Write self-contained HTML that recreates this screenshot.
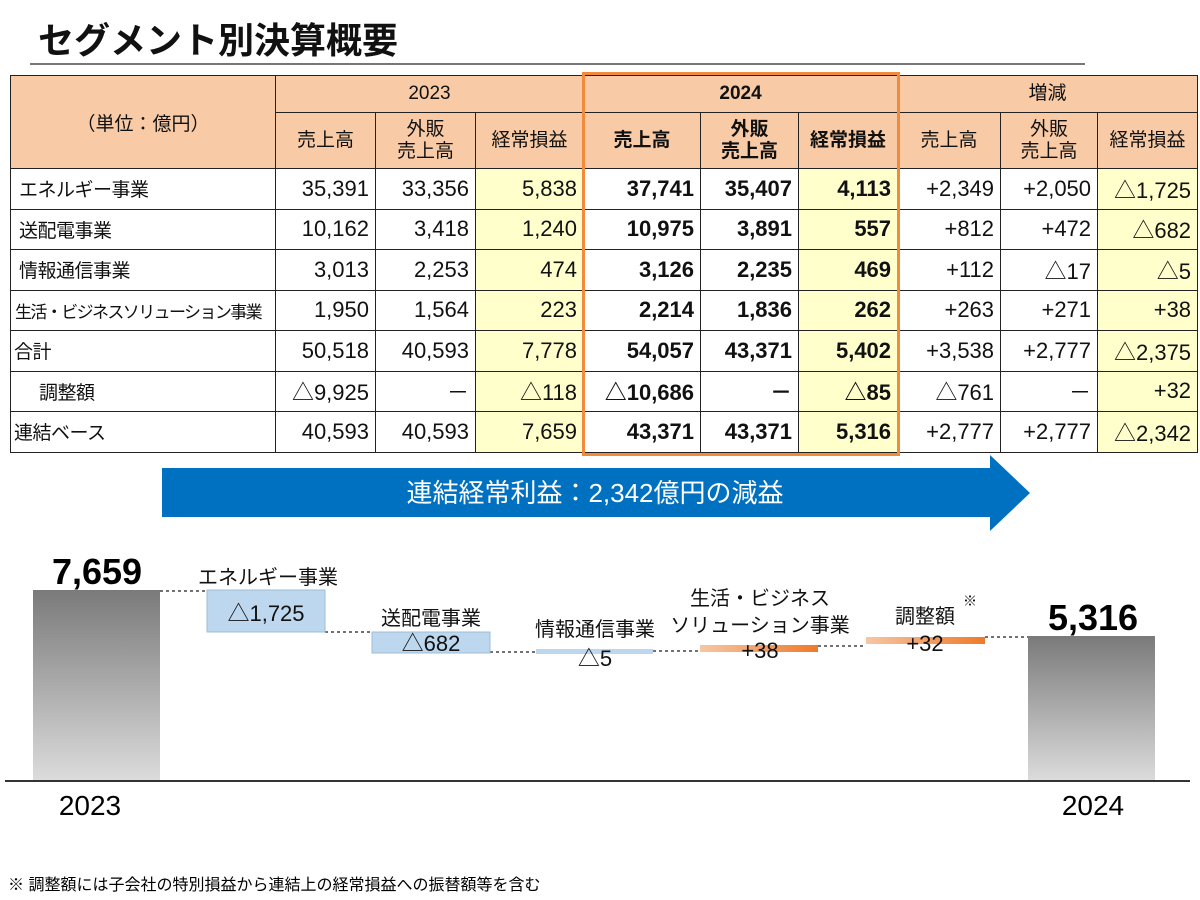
<!DOCTYPE html>
<html><head><meta charset="utf-8"><style>
body{margin:0;width:1200px;height:900px;background:#fff;font-family:"Liberation Sans","Noto Sans CJK JP",sans-serif;position:relative;overflow:hidden;color:#111}
.a{position:absolute;white-space:nowrap}
table{position:absolute;left:10px;top:75px;border-collapse:collapse;font-size:19px;table-layout:fixed;width:1187px}
td{border:1px solid #222;padding:0 6px;height:39.5px;text-align:right;white-space:nowrap;overflow:hidden}
td.l{text-align:left;padding-left:8px;letter-spacing:-0.5px}
.h td{background:#f8cba6;text-align:center;line-height:22px;height:36px}
.y{background:#ffffcc}
.b{font-weight:bold}
.n{font-size:22px}
</style></head><body>
<div class="a" style="left:38px;top:12px;font-size:36px;font-weight:bold">セグメント別決算概要</div>
<div class="a" style="left:30px;top:63px;width:1055px;height:2px;background:#777"></div>
<table>
<colgroup><col style="width:265px"><col style="width:100px"><col style="width:100px"><col style="width:108px"><col style="width:117px"><col style="width:98px"><col style="width:99px"><col style="width:103px"><col style="width:97px"><col style="width:100px"></colgroup>
<tr class="h"><td rowspan="2" style="vertical-align:top;padding-top:38px">（単位：億円）</td><td colspan="3">2023</td><td colspan="3" class="b">2024</td><td colspan="3">増減</td></tr>
<tr class="h" style="height:56px"><td>売上高</td><td>外販<br>売上高</td><td>経常損益</td><td class="b">売上高</td><td class="b">外販<br>売上高</td><td class="b">経常損益</td><td>売上高</td><td>外販<br>売上高</td><td>経常損益</td></tr>
<tr><td class="l">エネルギー事業</td><td class="n">35,391</td><td class="n">33,356</td><td class="n y">5,838</td><td class="n b">37,741</td><td class="n b">35,407</td><td class="n b y">4,113</td><td class="n">+2,349</td><td class="n">+2,050</td><td class="n y">△1,725</td></tr>
<tr><td class="l">送配電事業</td><td class="n">10,162</td><td class="n">3,418</td><td class="n y">1,240</td><td class="n b">10,975</td><td class="n b">3,891</td><td class="n b y">557</td><td class="n">+812</td><td class="n">+472</td><td class="n y">△682</td></tr>
<tr><td class="l">情報通信事業</td><td class="n">3,013</td><td class="n">2,253</td><td class="n y">474</td><td class="n b">3,126</td><td class="n b">2,235</td><td class="n b y">469</td><td class="n">+112</td><td class="n">△17</td><td class="n y">△5</td></tr>
<tr><td class="l" style="font-size:17px;padding-left:4px;letter-spacing:-1.6px">生活・ビジネスソリューション事業</td><td class="n">1,950</td><td class="n">1,564</td><td class="n y">223</td><td class="n b">2,214</td><td class="n b">1,836</td><td class="n b y">262</td><td class="n">+263</td><td class="n">+271</td><td class="n y">+38</td></tr>
<tr><td class="l" style="padding-left:3px">合計</td><td class="n">50,518</td><td class="n">40,593</td><td class="n y">7,778</td><td class="n b">54,057</td><td class="n b">43,371</td><td class="n b y">5,402</td><td class="n">+3,538</td><td class="n">+2,777</td><td class="n y">△2,375</td></tr>
<tr><td class="l" style="padding-left:28px">調整額</td><td class="n">△9,925</td><td class="n">－</td><td class="n y">△118</td><td class="n b">△10,686</td><td class="n b">－</td><td class="n b y">△85</td><td class="n">△761</td><td class="n">－</td><td class="n y">+32</td></tr>
<tr><td class="l" style="padding-left:3px">連結ベース</td><td class="n">40,593</td><td class="n">40,593</td><td class="n y">7,659</td><td class="n b">43,371</td><td class="n b">43,371</td><td class="n b y">5,316</td><td class="n">+2,777</td><td class="n">+2,777</td><td class="n y">△2,342</td></tr>
</table>
<div class="a" style="left:582px;top:72px;width:312px;height:378px;border:3px solid #f28a3c"></div>
<svg class="a" style="left:0;top:0" width="1200" height="900">
<defs>
<linearGradient id="g" x1="0" y1="0" x2="0" y2="1"><stop offset="0" stop-color="#7a7a7a"/><stop offset="1" stop-color="#dcdcdc"/></linearGradient>
<linearGradient id="o" x1="0" y1="0" x2="1" y2="0"><stop offset="0" stop-color="#f6c7a4"/><stop offset="1" stop-color="#ee7a2a"/></linearGradient>
</defs>
<polygon points="162,468 990,468 990,455 1030,493 990,531 990,517 162,517" fill="#0070c0"/>
<text x="595" y="502" font-size="26" fill="#fff" text-anchor="middle" font-family="Liberation Sans,Noto Sans CJK JP,sans-serif">連結経常利益：2,342億円の減益</text>
<rect x="33" y="590" width="127" height="191" fill="url(#g)"/>
<rect x="1028" y="636" width="127" height="145" fill="url(#g)"/>
<line x1="5" y1="781" x2="1190" y2="781" stroke="#333" stroke-width="2"/>
<g stroke="#444" stroke-width="1.5" stroke-dasharray="3,3">
<line x1="160" y1="591" x2="207" y2="591"/><line x1="325" y1="632" x2="372" y2="632"/><line x1="490" y1="652" x2="536" y2="652"/><line x1="653" y1="651" x2="700" y2="651"/><line x1="818" y1="646" x2="866" y2="646"/><line x1="985" y1="637" x2="1028" y2="637"/></g>
<rect x="207" y="590" width="118" height="42" fill="#bdd7ee" stroke="#9dbcd8"/>
<rect x="372" y="632" width="118" height="21" fill="#bdd7ee" stroke="#9dbcd8"/>
<rect x="536" y="649" width="117" height="5" fill="#bdd7ee"/>
<rect x="700" y="645" width="118" height="7" fill="url(#o)"/>
<rect x="866" y="637" width="119" height="7" fill="url(#o)"/>
<g font-size="20" text-anchor="middle" fill="#111" font-family="Liberation Sans,Noto Sans CJK JP,sans-serif">
<text x="268" y="584">エネルギー事業</text><text x="266" y="621" font-size="22">△1,725</text>
<text x="431" y="625">送配電事業</text><text x="431" y="651" font-size="22">△682</text>
<text x="595" y="636">情報通信事業</text><text x="595" y="666" font-size="22">△5</text>
<text x="760" y="605">生活・ビジネス</text><text x="760" y="632">ソリューション事業</text><text x="760" y="658" font-size="22">+38</text>
<text x="925" y="623">調整額</text><text x="925" y="651" font-size="22">+32</text>
<text x="970" y="606" font-size="14">※</text>
</g>
<text x="97" y="584" font-size="36" font-weight="bold" text-anchor="middle" font-family="Liberation Sans,sans-serif">7,659</text>
<text x="1093" y="630" font-size="36" font-weight="bold" text-anchor="middle" font-family="Liberation Sans,sans-serif">5,316</text>
<text x="90" y="815" font-size="28" text-anchor="middle" font-family="Liberation Sans,sans-serif">2023</text>
<text x="1093" y="815" font-size="28" text-anchor="middle" font-family="Liberation Sans,sans-serif">2024</text>
<text x="8" y="890" font-size="16" font-family="Liberation Sans,Noto Sans CJK JP,sans-serif">※ 調整額には子会社の特別損益から連結上の経常損益への振替額等を含む</text>
</svg>
</body></html>
